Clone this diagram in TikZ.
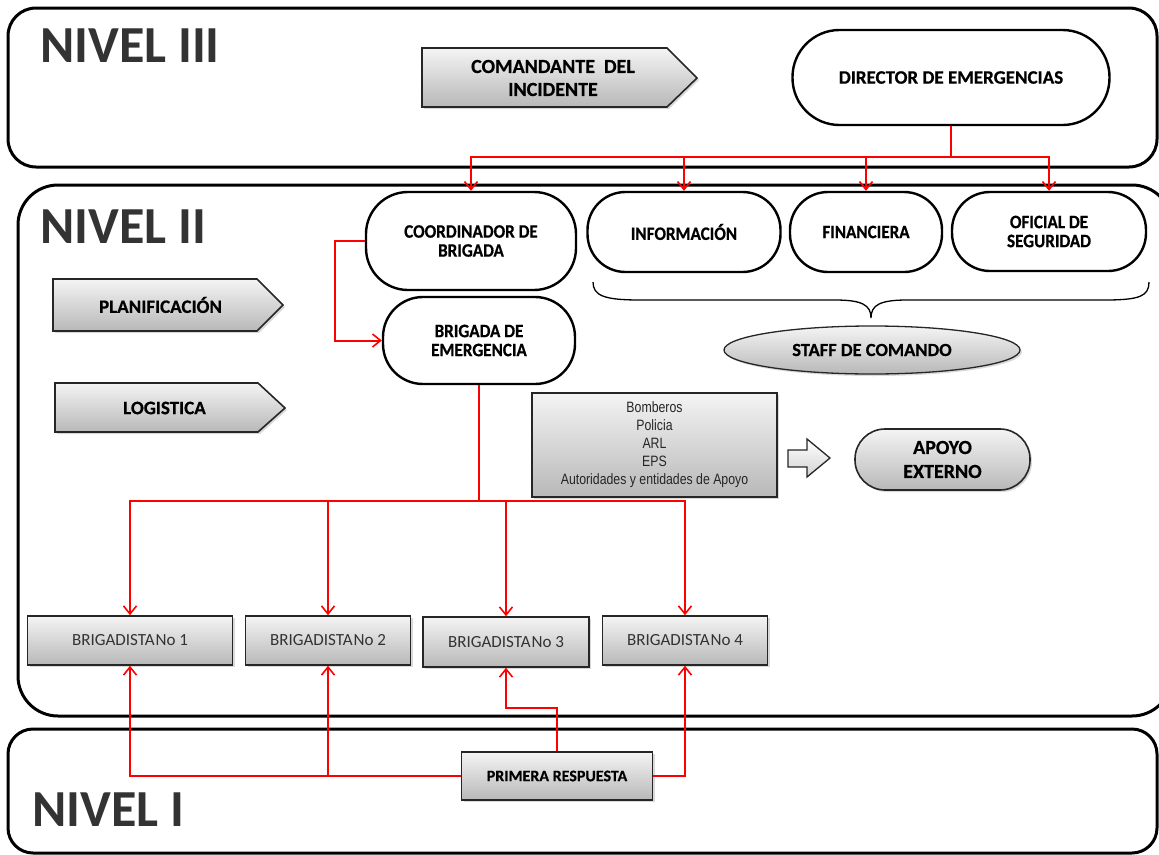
\documentclass[tikz,border=0pt]{standalone}
\usepackage{fontspec}
\setmainfont{Carlito}
\newfontfamily\narrowfont[FakeStretch=0.82]{Liberation Sans}
\newfontfamily\cgfont[FakeStretch=0.9,FakeBold=0.6]{Carlito}
\newfontfamily\hv[FakeBold=0.6]{Carlito}
\usetikzlibrary{arrows.meta,shadows,shapes.geometric}
\definecolor{rojo}{HTML}{FF0000}
\definecolor{gtop}{HTML}{F4F4F4}
\definecolor{gbot}{HTML}{B8B8B8}
\tikzset{
  panel/.style={draw=black, line width=3pt},
  pill/.style={draw=black, line width=2.4pt, fill=white, align=center,
    font=\cgfont\bfseries\fontsize{19}{19}\selectfont, inner sep=0pt},
  graybox/.style={draw=black!85, line width=1.6pt, top color=gtop, bottom color=gbot,
    drop shadow={opacity=0.3, shadow xshift=2pt, shadow yshift=-2pt}},
  rline/.style={draw=rojo, line width=2pt},
  rarr/.style={rline, -{Straight Barb[length=8pt,width=13pt,line width=1.6pt]}},
  nivel/.style={font=\bfseries\fontsize{52}{60}\selectfont, text=black!80, anchor=west, inner sep=0pt},
  lbl/.style={align=center, inner sep=0pt},
  brig/.style={graybox, inner sep=0pt, font=\fontsize{17}{19}\selectfont, text=black!80},
}
\begin{document}
\begin{tikzpicture}[x=1pt,y=-1pt]
\useasboundingbox (0,0) rectangle (1159,854);
% panels
\draw[panel, rounded corners=28pt] (8,8) rectangle (1157,167);
\draw[panel, rounded corners=40pt] (18,185) rectangle (1172,716);
\draw[panel, rounded corners=25pt] (8,729) rectangle (1157,853);
\node[nivel] (n3) at (40,45.5) {NIVEL III};
\node[nivel] (n2) at (40,227) {NIVEL II};
\node[nivel] (n1) at (32,810) {NIVEL I};

% level III
\path[graybox] (422,48) -- (667,48) -- (697,78) -- (667,107) -- (422,107) -- cycle;
\node[lbl, font=\hv\bfseries\fontsize{20}{23}\selectfont] (cmd) at (553,78) {COMANDANTE\ \ DEL\\INCIDENTE};
\node[pill, minimum width=317pt, minimum height=95pt, rounded corners=47pt,
  font=\hv\bfseries\fontsize{19}{22}\selectfont] (dir) at (951,77.5) {DIRECTOR DE EMERGENCIAS};

% level II
\node[pill, minimum width=210pt, minimum height=98pt, rounded corners=42pt] (coord) at (471,241) {COORDINADOR DE\\BRIGADA};
\node[pill, minimum width=193pt, minimum height=80pt, rounded corners=38pt] (info) at (684,232) {INFORMACIÓN};
\node[pill, minimum width=152pt, minimum height=80pt, rounded corners=38pt] (fin) at (866,232) {FINANCIERA};
\node[pill, minimum width=194pt, minimum height=79pt, rounded corners=38pt] (ofi) at (1049,231.5) {OFICIAL DE\\SEGURIDAD};
\node[pill, minimum width=192pt, minimum height=87pt, rounded corners=40pt] (brg) at (479,340.5) {BRIGADA DE\\EMERGENCIA};

\path[graybox] (53,279) -- (257,279) -- (283,305) -- (257,331) -- (53,331) -- cycle;
\node[lbl, font=\hv\bfseries\fontsize{19}{22}\selectfont] (plan) at (160.5,305) {PLANIFICACIÓN};
\path[graybox] (55,383) -- (258,383) -- (285,408) -- (258,432) -- (55,432) -- cycle;
\node[lbl, font=\hv\bfseries\fontsize{19}{22}\selectfont] (log) at (164.5,408) {LOGISTICA};

% brace and staff
\draw[line width=1.3pt] (593,282) .. controls (593,296) and (605,300) .. (640,300)
  -- (835,300) .. controls (862,300) and (871,305) .. (871,318)
  .. controls (871,305) and (880,300) .. (907,300) -- (1105,300)
  .. controls (1140,300) and (1149,296) .. (1149,282);
\node[ellipse, graybox, line width=1.3pt, minimum width=296pt, minimum height=48pt, inner sep=0pt,
  font=\hv\bfseries\fontsize{18.5}{20}\selectfont] (staff) at (872,350) {STAFF DE COMANDO};

% external support
\node[graybox, line width=1.3pt, minimum width=245pt, minimum height=104pt, align=center, inner sep=0pt,
  font=\narrowfont\fontsize{15}{18}\selectfont, text=black!85] (ent) at (654.5,445)
  {Bomberos\\Policia\\ARL\\EPS\\Autoridades y entidades de Apoyo};
\path[draw=black!85, line width=1.3pt, top color=white, bottom color=gray!35]
  (788,450) -- (807,450) -- (807,439) -- (830,458) -- (807,477) -- (807,467) -- (788,467) -- cycle;
\node[graybox, line width=1.6pt, minimum width=175pt, minimum height=61pt, rounded corners=30pt,
  align=center, inner sep=0pt, font=\hv\bfseries\fontsize{20}{24}\selectfont] (ext) at (942.5,459.5) {APOYO\\EXTERNO};

% brigadistas
\node[brig, minimum width=205pt, minimum height=49pt] (b1) at (130,640.5) {BRIGADISTA\kern1pt No 1};
\node[brig, minimum width=165pt, minimum height=49pt] (b2) at (328,640.5) {BRIGADISTA\kern1pt No 2};
\node[brig, minimum width=166pt, minimum height=50pt] (b3) at (506,642) {BRIGADISTA\kern1pt No 3};
\node[brig, minimum width=165pt, minimum height=49pt] (b4) at (685,640.5) {BRIGADISTA\kern1pt No 4};

% level I
\node[graybox, minimum width=191pt, minimum height=48pt, inner sep=0pt,
  font=\hv\bfseries\fontsize{16}{19}\selectfont] (pr) at (557,776) {PRIMERA RESPUESTA};

% connectors
\coordinate (bus3) at (951,157);
\draw[rline] (dir.south) -- (bus3);
\draw[rarr] (bus3) -| (coord.north);
\draw[rarr] (bus3) -| (info.north);
\draw[rarr] (bus3) -| (fin.north);
\draw[rarr] (bus3) -| (ofi.north);
\draw[rarr] (coord.west) -- ++(-30,0) |- (brg.west);
\coordinate (bus2) at (479,501);
\draw[rline] (brg.south) -- (bus2);
\draw[rarr] (bus2) -| (b1.north);
\draw[rarr] (bus2) -| (b2.north);
\draw[rarr] (bus2) -| (b3.north);
\draw[rarr] (bus2) -| (b4.north);
\draw[rarr] (pr.west) -| (b1.south);
\draw[rarr] (pr.west -| b2.south) -- (b2.south);
\draw[rarr] (pr.east) -| (b4.south);
\draw[rarr] (pr.north) -- ++(0,-43) -| (b3.south);
\end{tikzpicture}
\end{document}
